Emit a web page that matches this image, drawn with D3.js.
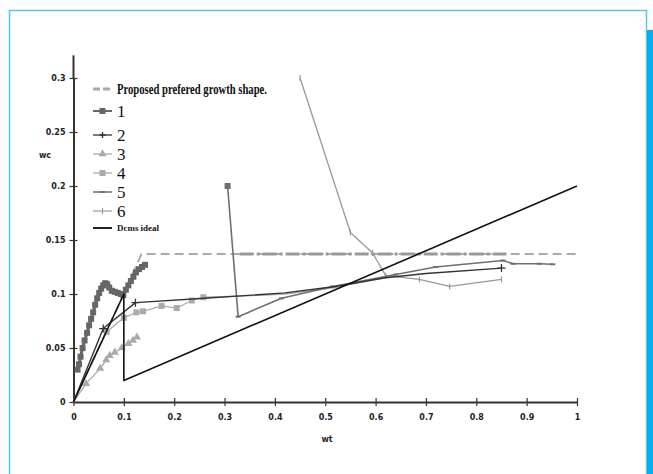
<!DOCTYPE html>
<html><head><meta charset="utf-8">
<script src="https://cdn.jsdelivr.net/npm/d3@7"></script>
<style>html,body{margin:0;padding:0;background:#fff;} svg{display:block;}</style>
</head><body>
<svg id="c" width="653" height="474"></svg>
<script>
// ---- data ----
const xTicks = [0,0.1,0.2,0.3,0.4,0.5,0.6,0.7,0.8,0.9,1];
const xTickLabels = ["0","0.1","0.2","0.3","0.4","0.5","0.6","0.7","0.8","0.9","1"];
const yTicks = [0,0.05,0.1,0.15,0.2,0.25,0.3];
const yTickLabels = ["0","0.05","0.1","0.15","0.2","0.25","0.3"];
const yAxisTop = 0.321;
const seriesNames = ["Proposed prefered growth shape.","1","2","3","4","5","6","Dcms ideal"];

const proposed = [[0,0],[0.1,0.1],[0.135,0.137],[1.0,0.137]];
const proposedHeavy = [[0.33,0.137],[0.86,0.137]];
const s1 = [[0.008,0.030],[0.011,0.035],[0.014,0.042],[0.018,0.050],[0.022,0.057],[0.027,0.064],[0.031,0.071],[0.035,0.077],[0.039,0.083],[0.043,0.090],[0.047,0.096],[0.051,0.101],[0.055,0.105],[0.059,0.108],[0.063,0.110],[0.067,0.109],[0.071,0.106],[0.076,0.103],[0.082,0.102],[0.088,0.101],[0.094,0.100],[0.099,0.099],[0.104,0.104],[0.109,0.108],[0.114,0.112],[0.119,0.116],[0.124,0.120],[0.130,0.123],[0.136,0.125],[0.142,0.127]];
const s2 = [[0,0],[0.059,0.068],[0.123,0.092],[0.26,0.096],[0.42,0.101],[0.52,0.107],[0.62,0.115],[0.70,0.119],[0.85,0.124]];
const s2MarkerIdx = [1,2,8];
const s3 = [[0,0],[0.025,0.017],[0.053,0.031],[0.065,0.039],[0.072,0.043],[0.082,0.046],[0.096,0.050],[0.109,0.054],[0.118,0.057],[0.126,0.060]];
const s4 = [[0,0],[0.066,0.065],[0.10,0.078],[0.125,0.083],[0.138,0.084],[0.175,0.089],[0.205,0.087],[0.235,0.094],[0.258,0.097],[0.33,0.098],[0.42,0.100],[0.52,0.106],[0.62,0.116],[0.64,0.118]];
const s5 = [[0.306,0.200],[0.327,0.079],[0.413,0.096],[0.515,0.107],[0.64,0.118],[0.719,0.125],[0.853,0.131],[0.873,0.128],[0.925,0.128],[0.952,0.1275]];
const s6 = [[0.45,0.300],[0.55,0.157],[0.594,0.138],[0.62,0.117],[0.687,0.1136],[0.747,0.107],[0.85,0.1136]];
const ideal = [[0,0],[0.1,0.1],[0.1,0.02],[1,0.2]];

// ---- layout ----
const svg = d3.select("#c");
const x = d3.scaleLinear().domain([0,1]).range([73.5,577]);
const y = d3.scaleLinear().domain([0,0.3]).range([402,78]);

// frame
svg.append("rect").attr("x",0).attr("y",0).attr("width",653).attr("height",474).attr("fill","#fff");
svg.append("path").attr("d","M9.5,474V10.5H646.5V474").attr("fill","none").attr("stroke","#55c6ef").attr("stroke-width",1.5);
svg.append("rect").attr("x",647).attr("y",30).attr("width",6).attr("height",444).attr("fill","#00b0ef");

const line = d3.line().x(d=>x(d[0])).y(d=>y(d[1]));

// axes
const gx = svg.append("g").attr("transform",`translate(0,${y(0)})`)
  .call(d3.axisBottom(x).tickValues(xTicks).tickFormat((d,i)=>xTickLabels[i]).tickSize(4).tickSizeOuter(0));
const gy = svg.append("g").attr("transform",`translate(${x(0)},0)`)
  .call(d3.axisLeft(y).tickValues(yTicks).tickFormat((d,i)=>yTickLabels[i]).tickSize(4).tickSizeOuter(0));
[gx,gy].forEach(g=>{
  g.select(".domain").attr("stroke","#333").attr("stroke-width",2);
  g.selectAll(".tick line").attr("stroke","#333").attr("stroke-width",1.2);
  g.selectAll(".tick text").attr("fill","#222").style("font-family","DejaVu Sans").style("font-size","8px").style("font-weight","bold");
});
gx.selectAll(".tick line").attr("y1",-4).attr("y2",4);
gx.selectAll(".tick text").attr("dy","0.71em").attr("y",12);
gy.selectAll(".tick line").attr("x1",-4).attr("x2",4);
gy.selectAll(".tick text").attr("x",-8);
svg.append("line").attr("x1",x(0)).attr("x2",x(0)).attr("y1",y(0.3)).attr("y2",y(yAxisTop)).attr("stroke","#333").attr("stroke-width",2);

svg.append("text").attr("x",45).attr("y",158).text("wc").attr("text-anchor","middle")
  .style("font-family","DejaVu Sans").style("font-size","8px").style("font-weight","bold").attr("fill","#222");
svg.append("text").attr("x",327).attr("y",442).text("wt").attr("text-anchor","middle")
  .style("font-family","DejaVu Sans").style("font-size","8px").style("font-weight","bold").attr("fill","#222");

// series
function drawLine(data, color, width, dash){
  svg.append("path").datum(data).attr("d",line).attr("fill","none").attr("stroke",color)
    .attr("stroke-width",width).attr("stroke-dasharray",dash||null).attr("stroke-linejoin","round");
}
function marker(g, type, cx, cy, color, s){
  if(type==="square") g.append("rect").attr("x",cx-s/2).attr("y",cy-s/2).attr("width",s).attr("height",s).attr("fill",color);
  else if(type==="tri") g.append("path").attr("d",d3.symbol(d3.symbolTriangle, s*s*0.8)()).attr("transform",`translate(${cx},${cy})`).attr("fill",color);
  else if(type==="plus") g.append("path").attr("d",`M${cx-s/2},${cy}H${cx+s/2}M${cx},${cy-s/2}V${cy+s/2}`).attr("stroke",color).attr("stroke-width",1.3);
  else if(type==="dash") g.append("path").attr("d",`M${cx-s/2},${cy}H${cx+s/2}`).attr("stroke",color).attr("stroke-width",2);
  else if(type==="vbar") g.append("path").attr("d",`M${cx},${cy-s/2}V${cy+s/2}`).attr("stroke",color).attr("stroke-width",1.2);
}
function drawMarkers(data,type,color,s){
  const g = svg.append("g");
  data.forEach(d=>marker(g,type,x(d[0]),y(d[1]),color,s));
}

drawLine(proposed,"#aaaaaa",2,"9,5");
drawLine(proposedHeavy,"#999999",3,"14,3,3,3");
drawLine(s4,"#aaaaaa",1.3); drawMarkers(s4.slice(1,9),"square","#aaaaaa",6);
drawLine(s3,"#aaaaaa",1.3); drawMarkers(s3.slice(1),"tri","#aaaaaa",6);
drawLine(s6,"#999999",1.3); drawMarkers(s6,"vbar","#999999",6);
drawLine(s5,"#707070",1.6); drawMarkers(s5,"dash","#707070",5);
marker(svg,"square",x(s5[0][0]),y(s5[0][1]),"#707070",6);
drawLine(s2,"#333333",1.4); drawMarkers(s2MarkerIdx.map(i=>s2[i]),"plus","#333333",8);
drawLine(s1,"#666666",3); drawMarkers(s1,"square","#666666",6);
drawLine(ideal,"#111111",1.6);

// legend
const leg = svg.append("g");
const legY = [89,111,135,154,173,192,211,228];
const legSamples = [
  {c:"#aaaaaa",w:3,dash:"7,3",m:null},
  {c:"#666666",w:2,m:"square"},
  {c:"#333333",w:1.3,m:"plus"},
  {c:"#aaaaaa",w:1.3,m:"tri"},
  {c:"#aaaaaa",w:1.3,m:"square"},
  {c:"#707070",w:1.5,m:"dash"},
  {c:"#999999",w:1.2,m:"vbar"},
  {c:"#222222",w:2,m:null}
];
seriesNames.forEach((name,i)=>{
  const s = legSamples[i], ly = legY[i];
  leg.append("line").attr("x1",93).attr("x2",112).attr("y1",ly).attr("y2",ly).attr("stroke",s.c).attr("stroke-width",s.w).attr("stroke-dasharray",s.dash||null);
  if(s.m) marker(leg,s.m,102.5,ly,s.c,6);
  const t = leg.append("text").attr("x",117).attr("y",ly).attr("dy","0.35em").text(name)
    .style("font-family","Liberation Serif").attr("fill","#111");
  if(i===0){ t.style("font-size","14px").style("font-weight","bold").attr("textLength",150).attr("lengthAdjust","spacingAndGlyphs"); }
  else if(i===7){ t.style("font-size","9px").style("font-weight","bold").attr("textLength",42).attr("lengthAdjust","spacingAndGlyphs"); }
  else { t.style("font-size","17px"); }
});
</script>
</body></html>
